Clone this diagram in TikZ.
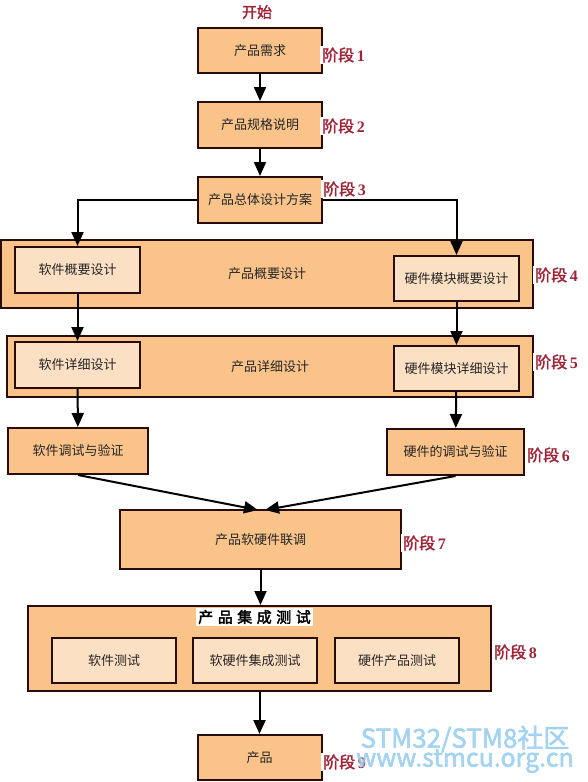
\documentclass[tikz,border=0pt]{standalone}
\usepackage{fontspec}
\setmainfont{Liberation Serif}
\newfontfamily\cjk{Noto Sans CJK SC}
\newfontfamily\cjkb[FakeBold=2]{Noto Sans CJK SC}
\newfontfamily\cjkt[FakeBold=2.5,LetterSpace=30]{Noto Sans CJK SC}
\usepackage{xcolor}
\definecolor{boxfill}{RGB}{249,195,138}
\definecolor{infill}{RGB}{252,224,196}
\definecolor{edge}{RGB}{40,12,12}
\definecolor{stagered}{RGB}{160,36,56}
\definecolor{wmblue}{RGB}{150,205,240}
\usetikzlibrary{arrows.meta}

\begin{document}
\begin{tikzpicture}[x=1pt, y=-1pt,
  box/.style={draw=edge, fill=boxfill, line width=2pt, inner sep=0pt,
    minimum width=124pt, minimum height=45pt,
    font=\cjk\fontsize{13}{13}\selectfont, text=black!85},
  inbox/.style={box, fill=infill},
  stagelbl/.style={fill=white, inner sep=2pt, anchor=west, text=stagered,
    font=\cjkb\fontsize{16}{16}\selectfont},
  arr/.style={line width=2pt, draw=black, -{Triangle[length=14pt, width=12pt]}}]
\useasboundingbox (0,0) rectangle (587,782);
% stages 1 to 3
\node[text=stagered, font=\cjkb\fontsize{15}{15}\selectfont] (start) at (257,12) {开始};
\node[box] (b1) at (260,50.5) {产品需求};
\node[box, minimum height=46pt] (b2) at (260,125) {产品规格说明};
\node[box, minimum height=46pt] (b3) at (260,200) {产品总体设计方案};
% stages 4 and 5
\node[box, minimum width=532pt, minimum height=68pt] (s4) at (267,274) {产品概要设计};
\node[inbox, minimum width=125pt, minimum height=46pt] (sw4) at (77.5,270) {软件概要设计};
\node[inbox, minimum width=125pt] (hw4) at (456.5,278.5) {硬件模块概要设计};
\node[box, minimum width=526pt, minimum height=61pt] (s5) at (270,366.5) {产品详细设计};
\node[inbox, minimum width=125pt, minimum height=46pt] (sw5) at (77.5,365) {软件详细设计};
\node[inbox, minimum width=125pt] (hw5) at (456.5,368.5) {硬件模块详细设计};
% stage 6 and 7
\node[box, minimum width=140pt, minimum height=46pt] (sw6) at (78,451) {软件调试与验证};
\node[box, minimum width=137pt, minimum height=46pt] (hw6) at (455.5,452) {硬件的调试与验证};
\node[box, minimum width=281pt, minimum height=59pt] (b7) at (260.5,539.5) {产品软硬件联调};
% stage 8 and product
\node[box, minimum width=463pt, minimum height=85pt] (s8) at (259.5,648.5) {};
\node[fill=white, inner sep=2pt, font=\cjkt\fontsize{15}{15}\selectfont] (t8) at (254.5,617) {产品集成测试};
\foreach \x/\name/\txt in {114/t8a/软件测试, 255/t8b/软硬件集成测试, 397/t8c/硬件产品测试}{
\node[inbox] (\name) at (\x,660.5) {\txt};
}
\node[box] (b9) at (259.5,757.5) {产品};
\coordinate (in7l) at (258,510);
\coordinate (in7r) at (265,510);
% connectors
\draw[arr] (b1) -- (b2);
\draw[arr] (b2) -- (b3);
\draw[arr] (b3.west) -| (sw4.north);
\draw[arr] (b3.east) -| (hw4.north);
\draw[arr] (sw4) -- (sw5);
\draw[arr] (hw4) -- (hw5);
\draw[arr] (sw5) -- (sw6);
\draw[arr] (hw5) -- (hw6);
\draw[arr] (sw6.south) -- (in7l);
\draw[arr] (hw6.south) -- (in7r);
\draw[arr] (b7.south) -- (b7.south |- s8.north);
\draw[arr] (s8.south) -- (b9.north);
% stage labels
\foreach \x/\y/\n in {320/55/1, 320/126/2, 321/189/3, 533/275/4, 533/362/5, 525/455/6, 401/543/7, 492/652/8, 321/762/9}{
\node[stagelbl] (lbl\n) at (\x,\y) {阶段\,{\bfseries\rmfamily\n}};
}
% watermark
\node[text=wmblue, opacity=0.85, font=\cjkb\fontsize{26}{26}\selectfont] (wm1) at (465,739) {STM32/STM8社区};
\node[text=wmblue, opacity=0.85, font=\cjkb\fontsize{25}{25}\selectfont] (wm2) at (465,761) {www.stmcu.org.cn};
\end{tikzpicture}
\end{document}
